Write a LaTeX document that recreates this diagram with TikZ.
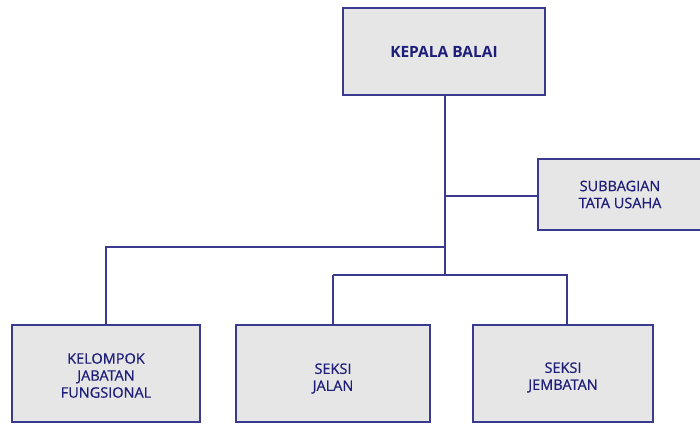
\documentclass[tikz,border=0pt]{standalone}
\usepackage{fontspec}
\setmainfont{Open Sans}
\newfontfamily\medfont[FakeBold=0.7]{Open Sans}
\definecolor{navy}{HTML}{3A3A8E}
\definecolor{txt}{HTML}{1E1E7A}
\definecolor{boxfill}{HTML}{E6E6E6}
\begin{document}
\begin{tikzpicture}[x=1pt,y=-1pt,
  orgbox/.style={draw=navy,line width=1.8pt,fill=boxfill,text=txt,align=center,inner sep=0pt,font=\medfont\fontsize{14.5}{17}\selectfont},
  boxtext/.style={text=txt,align=center,inner sep=0pt,font=\medfont\fontsize{14.5}{17}\selectfont},
  link/.style={draw=navy,line width=1.8pt}]
\useasboundingbox (0,0) rectangle (700,426);
\node[orgbox,minimum width=202pt,minimum height=87pt,font=\bfseries\fontsize{15.5}{18}\selectfont] (kb) at (444,51.5) {KEPALA BALAI};
\node[orgbox,minimum width=164pt,minimum height=71pt] (sb) at (620,194.5) {SUBBAGIAN\\TATA USAHA};
\node[orgbox,minimum width=188pt,minimum height=97pt] (kj) at (106,373.5) {};
\node[orgbox,minimum width=194pt,minimum height=97pt] (sj) at (333,373.5) {};
\node[orgbox,minimum width=180pt,minimum height=97pt] (sm) at (563,373.5) {};
\node[boxtext] (kjt) at ([yshift=-2pt]kj.center) {KELOMPOK\\JABATAN\\FUNGSIONAL};
\node[boxtext] (sjt) at ([yshift=-5pt]sj.center) {SEKSI\\JALAN};
\node[boxtext] (smt) at ([yshift=-4pt]sm.center) {SEKSI\\JEMBATAN};
\coordinate (j1) at (445,196);
\coordinate (j2) at (445,247);
\coordinate (j3) at (445,275);
\draw[link] (kb.south -| j1) -- (j3);
\draw[link] (j1) -- (sb.west |- j1);
\draw[link] (j2) -| (kj.north);
\draw[link] (j3 -| sj.north) -- (j3 -| 567,0) -- (sm.north -| 567,0);
\draw[link] (j3 -| sj.north) -- (sj.north);
\end{tikzpicture}
\end{document}
